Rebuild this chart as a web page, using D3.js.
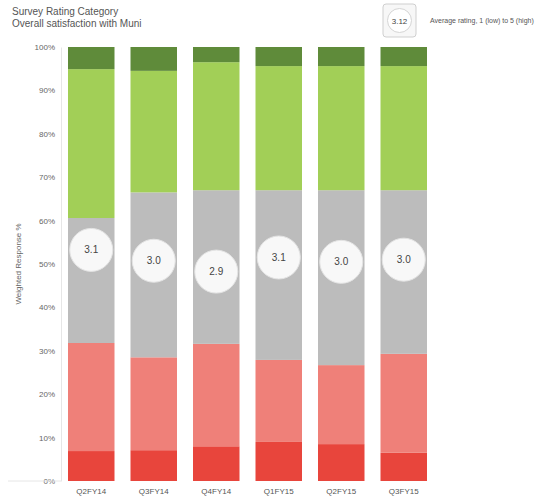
<!DOCTYPE html>
<html>
<head>
<meta charset="utf-8">
<script src="https://cdn.jsdelivr.net/npm/d3@7"></script>
<style>
  html, body { margin: 0; padding: 0; background: #ffffff; }
  svg { display: block; font-family: "Liberation Sans", Arial, sans-serif; }
</style>
</head>
<body>
<svg id="chart" width="560" height="500"></svg>
<script>
// ---- data ----
const quarters = ["Q2FY14", "Q3FY14", "Q4FY14", "Q1FY15", "Q2FY15", "Q3FY15"];
const categories = ["Very dissatisfied", "Dissatisfied", "Neutral", "Satisfied", "Very satisfied"];
const veryDissatisfied = [6.9, 7.1, 8.0, 9.0, 8.5, 6.5];
const dissatisfied     = [24.9, 21.4, 23.6, 18.9, 18.2, 22.8];
const neutral          = [28.8, 38.0, 35.4, 39.1, 40.3, 37.7];
const satisfied        = [34.3, 28.0, 29.5, 28.6, 28.6, 28.6];
const verySatisfied    = [5.1, 5.5, 3.5, 4.4, 4.4, 4.4];
const avgRating        = [3.13, 3.03, 2.93, 3.06, 3.02, 3.04];
const yTicks = [0, 10, 20, 30, 40, 50, 60, 70, 80, 90, 100];
const legendSample = 3.12;

const colors = ["#e8453c", "#ef8079", "#bcbcbc", "#a2cf57", "#5f8b3a"];
const seriesValues = [veryDissatisfied, dissatisfied, neutral, satisfied, verySatisfied];

const rows = quarters.map((q, i) => {
  const r = { quarter: q };
  categories.forEach((c, k) => { r[c] = seriesValues[k][i]; });
  return r;
});

const svg = d3.select("#chart");

const x = d3.scaleBand().domain(quarters).range([60, 435]).paddingInner(0.256).paddingOuter(0.128);
const y = d3.scaleLinear().domain([0, 100]).range([481, 47]);
const ratingY = d3.scaleLinear().domain([1, 5]).range([481, 47]);

// Title
svg.append("text").attr("x", 12).attr("y", 15).attr("font-size", 10).attr("fill", "#555")
  .text("Survey Rating Category");
svg.append("text").attr("x", 12).attr("y", 27).attr("font-size", 10).attr("fill", "#555")
  .text("Overall satisfaction with Muni");

// Legend
svg.append("rect").attr("x", 383).attr("y", 4).attr("width", 33).attr("height", 33).attr("rx", 3)
  .attr("fill", "#f7f7f7").attr("stroke", "#cfcfcf");
svg.append("circle").attr("cx", 399.5).attr("cy", 20.5).attr("r", 12)
  .attr("fill", "#ffffff").attr("stroke", "#d5d5d5");
svg.append("text").attr("x", 399.5).attr("y", 23.5).attr("text-anchor", "middle")
  .attr("font-size", 8).attr("fill", "#444").text(legendSample.toFixed(2));
svg.append("text").attr("x", 430).attr("y", 23).attr("font-size", 7).attr("fill", "#555")
  .text("Average rating, 1 (low) to 5 (high)");

// Stacked bars
const stack = d3.stack().keys(categories);
const layers = stack(rows);
svg.append("g").selectAll("g").data(layers).join("g")
  .attr("fill", (d, i) => colors[i])
  .selectAll("rect").data(d => d).join("rect")
  .attr("x", d => x(d.data.quarter))
  .attr("width", x.bandwidth())
  .attr("y", d => y(d[1]))
  .attr("height", d => y(d[0]) - y(d[1]));

// Y axis
const yAxis = d3.axisLeft(y).tickValues(yTicks).tickFormat(d => d + "%").tickSize(0).tickPadding(6);
const gy = svg.append("g").attr("transform", "translate(61,0)").call(yAxis);
gy.select(".domain").attr("stroke", "#e6e6e6");
gy.selectAll("text").attr("font-size", 8).attr("fill", "#666").attr("font-family", "Liberation Sans, Arial, sans-serif");
svg.append("line").attr("x1", 8).attr("x2", 61).attr("y1", 481).attr("y2", 481).attr("stroke", "#e6e6e6");

svg.append("text").attr("transform", "translate(21,264) rotate(-90)")
  .attr("text-anchor", "middle").attr("font-size", 8).attr("fill", "#666")
  .text("Weighted Response %");

// X axis
const xAxis = d3.axisBottom(x).tickSize(0).tickPadding(6);
const gx = svg.append("g").attr("transform", "translate(0,482)").call(xAxis);
gx.select(".domain").remove();
gx.selectAll("text").attr("font-size", 8).attr("fill", "#555").attr("font-family", "Liberation Sans, Arial, sans-serif");

// Average rating bubbles
const bub = svg.append("g").selectAll("g").data(quarters).join("g")
  .attr("transform", (q, i) => `translate(${x(q) + x.bandwidth() / 2},${ratingY(avgRating[i])})`);
bub.append("circle").attr("r", 21.5).attr("fill", "#f8f8f8").attr("stroke", "#e4e4e4");
bub.append("text").attr("text-anchor", "middle").attr("dy", "0.35em")
  .attr("font-size", 10).attr("fill", "#444")
  .text((q, i) => avgRating[i].toFixed(1));
</script>
</body>
</html>
